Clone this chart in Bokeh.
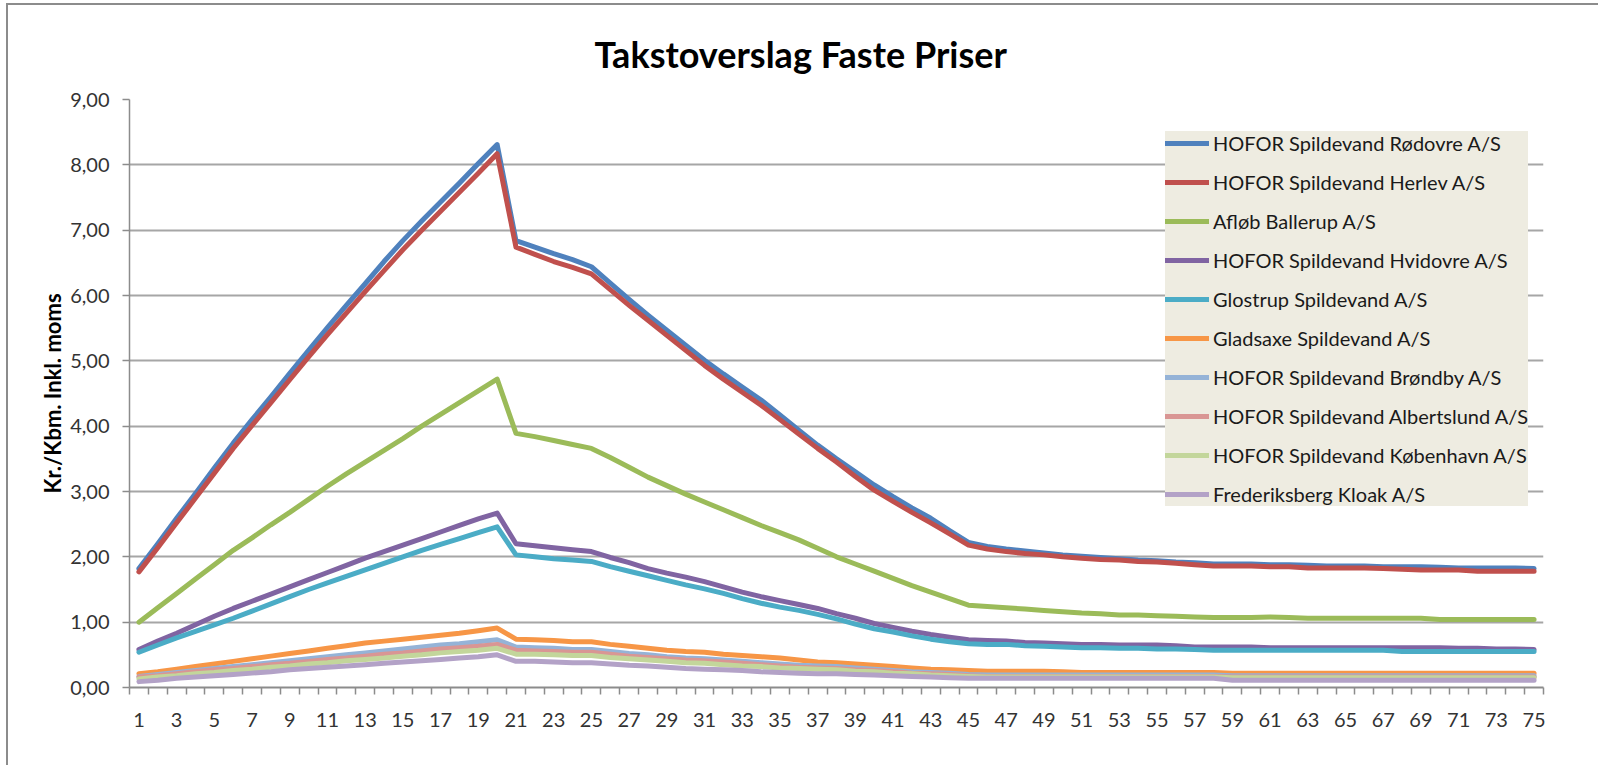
import math
from bokeh.plotting import figure
from bokeh.models import FixedTicker, Legend, LegendItem, Range1d, Title
from bokeh.embed import file_html
from bokeh.resources import INLINE

# ---------------- data ----------------
years = list(range(1, 76))
x_tick_values = list(range(1, 76, 2))
y_tick_values = [0, 1, 2, 3, 4, 5, 6, 7, 8, 9]
y_tick_labels = ["0,00", "1,00", "2,00", "3,00", "4,00", "5,00", "6,00", "7,00", "8,00", "9,00"]

title_text = "Takstoverslag Faste Priser"
y_label_text = "Kr./Kbm. Inkl. moms"

series_names = [
    "HOFOR Spildevand Rødovre A/S",
    "HOFOR Spildevand Herlev A/S",
    "Afløb Ballerup A/S",
    "HOFOR Spildevand Hvidovre A/S",
    "Glostrup Spildevand A/S",
    "Gladsaxe Spildevand A/S",
    "HOFOR Spildevand Brøndby A/S",
    "HOFOR Spildevand Albertslund A/S",
    "HOFOR Spildevand København A/S",
    "Frederiksberg Kloak A/S",
]

rodovre = [1.82, 2.20, 2.59, 2.97, 3.36, 3.74, 4.10, 4.45, 4.81, 5.16, 5.51, 5.85, 6.18, 6.52, 6.84, 7.14, 7.43, 7.72, 8.02, 8.31,
           6.84, 6.74, 6.64, 6.55, 6.44, 6.19, 5.94, 5.70, 5.47, 5.24, 5.01, 4.80, 4.60, 4.40, 4.17, 3.94, 3.71, 3.50, 3.30, 3.10,
           2.92, 2.75, 2.59, 2.40, 2.22,
           2.16, 2.12, 2.09, 2.06, 2.03, 2.01, 1.99, 1.97, 1.95, 1.94, 1.92, 1.91, 1.89, 1.89, 1.89, 1.88, 1.88, 1.87, 1.86, 1.86,
           1.86, 1.85, 1.85, 1.85, 1.84, 1.83, 1.83, 1.83, 1.83, 1.82]
herlev = [1.77, 2.14, 2.52, 2.90, 3.28, 3.66, 4.01, 4.36, 4.71, 5.06, 5.40, 5.73, 6.06, 6.38, 6.70, 7.00, 7.29, 7.58, 7.87, 8.17,
          6.74, 6.63, 6.52, 6.43, 6.33, 6.09, 5.85, 5.62, 5.39, 5.16, 4.93, 4.72, 4.52, 4.32, 4.10, 3.88, 3.66, 3.45, 3.23, 3.02,
          2.85, 2.68, 2.52, 2.35, 2.18,
          2.12, 2.08, 2.05, 2.03, 2.00, 1.98, 1.96, 1.95, 1.93, 1.92, 1.90, 1.88, 1.86, 1.86, 1.86, 1.85, 1.85, 1.83, 1.83, 1.83,
          1.83, 1.82, 1.81, 1.80, 1.80, 1.80, 1.78, 1.78, 1.78, 1.78]
ballerup = [1.00, 1.22, 1.44, 1.66, 1.88, 2.10, 2.29, 2.49, 2.68, 2.88, 3.08, 3.27, 3.45, 3.63, 3.81, 4.00, 4.18, 4.36, 4.54, 4.72,
            3.89, 3.84, 3.78, 3.72, 3.66, 3.52, 3.37, 3.22, 3.09, 2.96, 2.84, 2.72, 2.60, 2.48, 2.37, 2.26, 2.13, 2.00, 1.89, 1.78,
            1.67, 1.56, 1.46, 1.36, 1.26,
            1.24, 1.22, 1.20, 1.18, 1.16, 1.14, 1.13, 1.11, 1.11, 1.10, 1.09, 1.08, 1.07, 1.07, 1.07, 1.08, 1.07, 1.06, 1.06, 1.06,
            1.06, 1.06, 1.06, 1.06, 1.04, 1.04, 1.04, 1.04, 1.04, 1.04]
hvidovre = [0.58, 0.71, 0.83, 0.96, 1.09, 1.21, 1.32, 1.43, 1.54, 1.65, 1.76, 1.87, 1.98, 2.08, 2.18, 2.28, 2.38, 2.48, 2.58, 2.67,
            2.20, 2.17, 2.14, 2.11, 2.08, 1.99, 1.91, 1.82, 1.75, 1.69, 1.62, 1.54, 1.46, 1.39, 1.33, 1.27, 1.21, 1.13, 1.06, 0.98,
            0.92, 0.86, 0.81, 0.77, 0.73,
            0.72, 0.71, 0.69, 0.68, 0.67, 0.66, 0.66, 0.65, 0.65, 0.65, 0.64, 0.62, 0.62, 0.62, 0.62, 0.61, 0.61, 0.61, 0.61, 0.61,
            0.61, 0.61, 0.61, 0.61, 0.61, 0.60, 0.60, 0.59, 0.59, 0.58]
glostrup = [0.54, 0.65, 0.76, 0.86, 0.96, 1.06, 1.17, 1.28, 1.39, 1.50, 1.60, 1.70, 1.80, 1.90, 2.00, 2.10, 2.19, 2.28, 2.37, 2.46,
            2.03, 2.00, 1.97, 1.95, 1.93, 1.85, 1.78, 1.71, 1.64, 1.57, 1.51, 1.44, 1.36, 1.29, 1.23, 1.18, 1.12, 1.05, 0.97, 0.90,
            0.85, 0.79, 0.74, 0.70, 0.67,
            0.66, 0.66, 0.64, 0.63, 0.62, 0.61, 0.61, 0.60, 0.60, 0.59, 0.59, 0.58, 0.57, 0.57, 0.57, 0.57, 0.57, 0.57, 0.57, 0.57,
            0.57, 0.57, 0.55, 0.55, 0.55, 0.55, 0.55, 0.55, 0.55, 0.55]
gladsaxe = [0.21, 0.24, 0.28, 0.32, 0.36, 0.40, 0.44, 0.48, 0.52, 0.56, 0.60, 0.64, 0.68, 0.71, 0.74, 0.77, 0.80, 0.83, 0.87, 0.91,
            0.74, 0.73, 0.72, 0.70, 0.70, 0.66, 0.63, 0.60, 0.57, 0.55, 0.54, 0.51, 0.49, 0.47, 0.45, 0.42, 0.39, 0.38, 0.36, 0.34,
            0.32, 0.30, 0.28, 0.27, 0.26,
            0.25, 0.25, 0.25, 0.25, 0.24, 0.23, 0.23, 0.23, 0.23, 0.23, 0.23, 0.23, 0.23, 0.22, 0.22, 0.22, 0.22, 0.22, 0.22, 0.22,
            0.22, 0.22, 0.22, 0.22, 0.22, 0.22, 0.22, 0.22, 0.22, 0.22]
brondby = [0.17, 0.20, 0.23, 0.26, 0.29, 0.32, 0.35, 0.38, 0.41, 0.44, 0.47, 0.50, 0.53, 0.56, 0.59, 0.62, 0.65, 0.67, 0.70, 0.73,
           0.62, 0.61, 0.60, 0.58, 0.58, 0.55, 0.52, 0.50, 0.47, 0.45, 0.44, 0.42, 0.40, 0.38, 0.36, 0.34, 0.33, 0.32, 0.30, 0.28,
           0.26, 0.24, 0.23, 0.22, 0.20,
           0.19, 0.19, 0.19, 0.19, 0.19, 0.19, 0.19, 0.19, 0.19, 0.19, 0.19, 0.19, 0.19, 0.18, 0.18, 0.18, 0.18, 0.18, 0.18, 0.18,
           0.18, 0.18, 0.18, 0.18, 0.18, 0.18, 0.18, 0.18, 0.18, 0.18]
albertslund = [0.16, 0.18, 0.21, 0.24, 0.27, 0.29, 0.32, 0.35, 0.37, 0.40, 0.43, 0.45, 0.48, 0.51, 0.53, 0.56, 0.59, 0.61, 0.63, 0.66,
               0.57, 0.56, 0.55, 0.54, 0.54, 0.51, 0.48, 0.46, 0.44, 0.42, 0.41, 0.39, 0.37, 0.35, 0.33, 0.31, 0.30, 0.29, 0.27, 0.26,
               0.24, 0.22, 0.21, 0.20, 0.18,
               0.17, 0.17, 0.17, 0.17, 0.17, 0.17, 0.17, 0.17, 0.17, 0.17, 0.17, 0.17, 0.17, 0.16, 0.16, 0.16, 0.16, 0.16, 0.16, 0.16,
               0.16, 0.16, 0.16, 0.16, 0.16, 0.16, 0.16, 0.16, 0.16, 0.16]
kobenhavn = [0.13, 0.16, 0.18, 0.21, 0.23, 0.26, 0.28, 0.31, 0.33, 0.36, 0.38, 0.41, 0.43, 0.45, 0.48, 0.50, 0.53, 0.55, 0.57, 0.60,
             0.51, 0.51, 0.50, 0.49, 0.49, 0.46, 0.44, 0.42, 0.40, 0.38, 0.37, 0.35, 0.33, 0.32, 0.30, 0.29, 0.28, 0.27, 0.25, 0.24,
             0.22, 0.21, 0.19, 0.18, 0.17,
             0.16, 0.16, 0.16, 0.16, 0.16, 0.16, 0.16, 0.16, 0.16, 0.16, 0.16, 0.16, 0.16, 0.15, 0.15, 0.15, 0.15, 0.15, 0.15, 0.15,
             0.15, 0.15, 0.15, 0.15, 0.15, 0.15, 0.15, 0.15, 0.15, 0.15]
frederiksberg = [0.09, 0.11, 0.14, 0.16, 0.18, 0.20, 0.22, 0.24, 0.27, 0.29, 0.31, 0.33, 0.35, 0.37, 0.39, 0.41, 0.43, 0.45, 0.47, 0.50,
                 0.40, 0.40, 0.39, 0.38, 0.38, 0.36, 0.34, 0.33, 0.31, 0.29, 0.28, 0.27, 0.26, 0.24, 0.23, 0.22, 0.21, 0.21, 0.20, 0.19,
                 0.18, 0.17, 0.16, 0.15, 0.14,
                 0.14, 0.14, 0.14, 0.14, 0.14, 0.14, 0.14, 0.14, 0.14, 0.14, 0.14, 0.14, 0.14, 0.11, 0.11, 0.11, 0.11, 0.11, 0.11, 0.11,
                 0.11, 0.11, 0.11, 0.11, 0.11, 0.11, 0.11, 0.11, 0.11, 0.11]

series_values = [rodovre, herlev, ballerup, hvidovre, glostrup, gladsaxe, brondby, albertslund, kobenhavn, frederiksberg]
colors = ["#4F81BD", "#C0504D", "#9BBB59", "#8064A2", "#4BACC6",
          "#F79646", "#95B3D7", "#D99694", "#C3D69B", "#B3A2C7"]

# ---------------- figure ----------------
FONT = "Lato"
GRID = "#a6a6a6"
AXIS = "#8c8c8c"

p = figure(
    frame_width=1414, frame_height=588,
    min_border_left=121, min_border_top=94, min_border_right=55, min_border_bottom=78,
    x_range=Range1d(0.5, 75.5), y_range=Range1d(0, 9),
    output_backend="svg", toolbar_location=None,
    background_fill_color="white", border_fill_color="white",
)
p.styles = {"border-left": "2px solid #8c8c8c", "border-top": "2px solid #8c8c8c",
            "margin-left": "6px", "margin-top": "3px"}
p.outline_line_color = None

# title
p.title = Title(text=title_text, align="left", offset=465, standoff=47,
                text_font=FONT, text_font_style="bold", text_font_size="36px",
                text_color="#000000")

# x axis: labels on odd years, tick marks between categories
xt = FixedTicker(ticks=x_tick_values, minor_ticks=[v - 0.5 for v in years] + [75.5])
p.xaxis.ticker = xt
p.xaxis.major_tick_line_color = None
p.xaxis.minor_tick_line_color = AXIS
p.xaxis.minor_tick_in = 0
p.xaxis.minor_tick_out = 7
p.xaxis.minor_tick_line_width = 1.5
p.xaxis.axis_line_color = AXIS
p.xaxis.axis_line_width = 2
p.xaxis.major_label_standoff = 18
p.xaxis.major_label_text_font = FONT
p.xaxis.major_label_text_font_size = "20px"
p.xaxis.major_label_text_color = "#333333"

p.yaxis.ticker = FixedTicker(ticks=y_tick_values)
p.yaxis.major_label_overrides = {v: s for v, s in zip(y_tick_values, y_tick_labels)}
p.yaxis.minor_tick_line_color = None
p.yaxis.major_tick_in = 0
p.yaxis.major_tick_out = 7
p.yaxis.major_tick_line_color = AXIS
p.yaxis.major_tick_line_width = 1.5
p.yaxis.axis_line_color = AXIS
p.yaxis.axis_line_width = 1.5
p.yaxis.major_label_standoff = 13
p.yaxis.major_label_text_font = FONT
p.yaxis.major_label_text_font_size = "20px"
p.yaxis.major_label_text_color = "#333333"
p.yaxis.axis_label = y_label_text
p.yaxis.axis_label_standoff = 1
p.yaxis.axis_label_text_font = FONT
p.yaxis.axis_label_text_font_style = "bold"
p.yaxis.axis_label_text_font_size = "22px"
p.yaxis.axis_label_text_color = "#000000"

p.xgrid.grid_line_color = None
p.ygrid.ticker = FixedTicker(ticks=y_tick_values)
p.ygrid.grid_line_color = GRID
p.ygrid.grid_line_width = 2

items = []
for name, vals, col in zip(series_names, series_values, colors):
    r = p.line(years, vals, line_color=col, line_width=5, line_join="round", line_cap="round")
    items.append(LegendItem(label=name, renderers=[r]))

legend = Legend(
    items=items,
    location=(1036, 181),
    background_fill_color="#EEECE1", background_fill_alpha=1.0,
    border_line_color=None,
    padding=18, spacing=15, margin=0,
    glyph_width=44, glyph_height=20, label_height=20, label_standoff=4,
    label_text_font=FONT, label_text_font_size="20px", label_text_color="#1a1a1a",
)
p.add_layout(legend, "center")

open("out.html", "w").write(file_html(p, INLINE))
